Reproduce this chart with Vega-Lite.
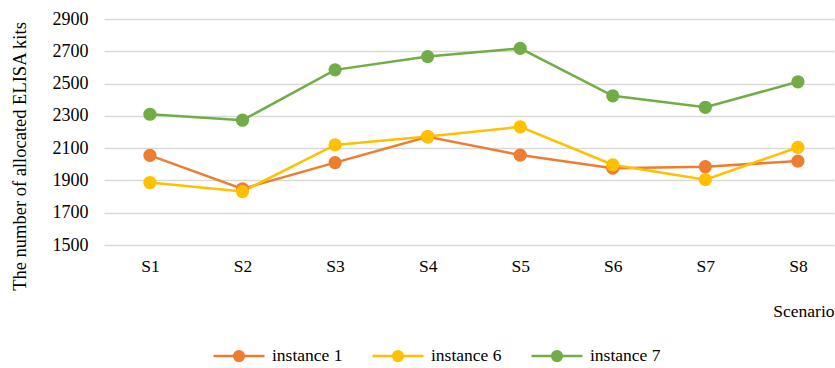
{
  "$schema": "https://vega.github.io/schema/vega-lite/v6.json",
  "width": 730,
  "height": 226,
  "autosize": "none",
  "padding": {"left": 104, "top": 19, "right": 1, "bottom": 123},
  "background": "white",
  "config": {
    "font": "Liberation Serif",
    "view": {"stroke": null},
    "axis": {"labelFont": "Liberation Serif", "titleFont": "Liberation Serif", "labelColor": "#000000", "titleColor": "#000000", "titleFontWeight": "normal"},
    "legend": {"labelFont": "Liberation Serif", "labelColor": "#000000"}
  },
  "data": {
    "values": [
      {"scenario": "S1", "series": "instance 1", "kits": 2055},
      {"scenario": "S2", "series": "instance 1", "kits": 1848},
      {"scenario": "S3", "series": "instance 1", "kits": 2010},
      {"scenario": "S4", "series": "instance 1", "kits": 2170},
      {"scenario": "S5", "series": "instance 1", "kits": 2057},
      {"scenario": "S6", "series": "instance 1", "kits": 1976},
      {"scenario": "S7", "series": "instance 1", "kits": 1985},
      {"scenario": "S8", "series": "instance 1", "kits": 2020},
      {"scenario": "S1", "series": "instance 6", "kits": 1887},
      {"scenario": "S2", "series": "instance 6", "kits": 1831},
      {"scenario": "S3", "series": "instance 6", "kits": 2120},
      {"scenario": "S4", "series": "instance 6", "kits": 2172},
      {"scenario": "S5", "series": "instance 6", "kits": 2232},
      {"scenario": "S6", "series": "instance 6", "kits": 1997},
      {"scenario": "S7", "series": "instance 6", "kits": 1905},
      {"scenario": "S8", "series": "instance 6", "kits": 2105},
      {"scenario": "S1", "series": "instance 7", "kits": 2310},
      {"scenario": "S2", "series": "instance 7", "kits": 2273},
      {"scenario": "S3", "series": "instance 7", "kits": 2585},
      {"scenario": "S4", "series": "instance 7", "kits": 2667},
      {"scenario": "S5", "series": "instance 7", "kits": 2718},
      {"scenario": "S6", "series": "instance 7", "kits": 2424},
      {"scenario": "S7", "series": "instance 7", "kits": 2353},
      {"scenario": "S8", "series": "instance 7", "kits": 2511}
    ]
  },
  "mark": {
    "type": "line",
    "strokeWidth": 2.5,
    "point": {"filled": true, "size": 175, "opacity": 1}
  },
  "encoding": {
    "x": {
      "field": "scenario",
      "type": "ordinal",
      "scale": {"type": "point", "padding": 0.443, "align": 0.56},
      "axis": {
        "title": "Scenario",
        "titleFontSize": 17.5,
        "titleAnchor": "end",
        "titleAlign": "right",
        "titlePadding": 28,
        "labelFontSize": 17.5,
        "labelAngle": 0,
        "labelPadding": 12,
        "ticks": false,
        "domain": false,
        "grid": false
      }
    },
    "y": {
      "field": "kits",
      "type": "quantitative",
      "scale": {"domain": [1500, 2900], "nice": false, "zero": false},
      "axis": {
        "title": "The number of allocated ELISA kits",
        "titleFontSize": 18.5,
        "titleAngle": -90,
        "titleAlign": "center",
        "titleBaseline": "middle",
        "titleX": -85,
        "titleY": 137,
        "values": [1500, 1700, 1900, 2100, 2300, 2500, 2700, 2900],
        "format": "d",
        "labelFontSize": 18,
        "labelPadding": 16,
        "ticks": false,
        "domain": false,
        "grid": true,
        "gridColor": "#D9D9D9",
        "gridWidth": 1.6
      }
    },
    "color": {
      "field": "series",
      "type": "nominal",
      "scale": {"domain": ["instance 1", "instance 6", "instance 7"], "range": ["#ED7D31", "#FFC000", "#70AD47"]},
      "legend": {
        "title": null,
        "orient": "none",
        "legendX": 108,
        "legendY": 310,
        "direction": "horizontal",
        "labelFontSize": 17.5,
        "labelOffset": 6,
        "columnPadding": 24,
        "symbolType": "M-1,0H1M-0.19,0A0.19,0.19,0,1,0,0.19,0A0.19,0.19,0,1,0,-0.19,0Z",
        "symbolSize": 2601,
        "symbolStrokeWidth": 2.5,
        "encode": {
          "symbols": {
            "update": {
              "fill": {"scale": "color", "field": "value"},
              "stroke": {"scale": "color", "field": "value"},
              "opacity": {"value": 1}
            }
          }
        }
      }
    }
  }
}
